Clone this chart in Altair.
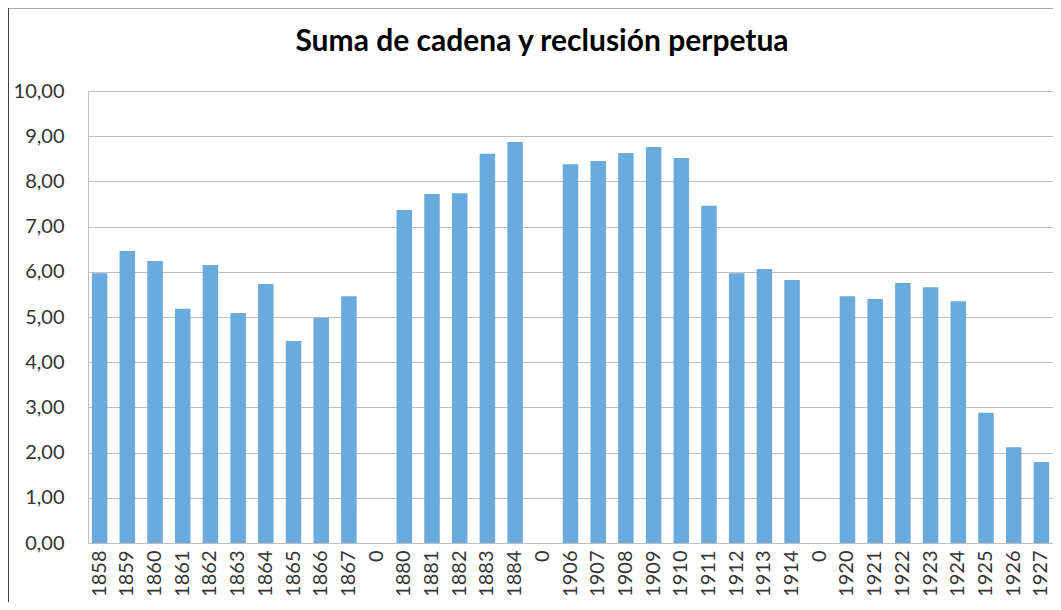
import altair as alt
import pandas as pd

# Category keys (gap categories get unique keys, displayed as "0")
keys = ["1858", "1859", "1860", "1861", "1862", "1863", "1864", "1865", "1866", "1867",
        "g1",
        "1880", "1881", "1882", "1883", "1884",
        "g2",
        "1906", "1907", "1908", "1909", "1910", "1911", "1912", "1913", "1914",
        "g3",
        "1920", "1921", "1922", "1923", "1924", "1925", "1926", "1927"]

values = [5.97, 6.46, 6.24, 5.18, 6.15, 5.09, 5.73, 4.47, 4.98, 5.46,
          0.0,
          7.37, 7.72, 7.74, 8.61, 8.87,
          0.0,
          8.38, 8.45, 8.63, 8.76, 8.52, 7.46, 5.97, 6.06, 5.82,
          0.0,
          5.46, 5.40, 5.75, 5.66, 5.35, 2.88, 2.12, 1.79]

y_ticks = [0, 1, 2, 3, 4, 5, 6, 7, 8, 9, 10]

title_text = "Suma de cadena y reclusión perpetua"

df = pd.DataFrame({"cat": keys, "value": values})

bars = alt.Chart(df).mark_bar(color="#6aaadc").encode(
    x=alt.X("cat:N", sort=keys, title=None,
            scale=alt.Scale(paddingInner=0.44, paddingOuter=0.14),
            axis=alt.Axis(labelAngle=-90,
                          labelExpr="indexof(datum.value, 'g') == 0 ? '0' : datum.value",
                          labelFont="Lato", labelFontSize=20, labelColor="#333333",
                          labelPadding=7, ticks=False, domainColor="#bfbfbf",
                          domainWidth=1, grid=False)),
    y=alt.Y("value:Q", title=None,
            scale=alt.Scale(domain=[0, 10], nice=False),
            axis=alt.Axis(values=y_ticks,
                          labelExpr="replace(format(datum.value, '.2f'), '.', ',')",
                          labelFont="Lato", labelFontSize=20, labelColor="#333333",
                          labelPadding=24, ticks=False, domainColor="#bfbfbf",
                          gridColor="#bfbfbf", gridWidth=1)),
)

frame_src = pd.DataFrame({"k": [0]})
left_frame = alt.Chart(frame_src).mark_rule(color="#000000", strokeWidth=1.5).encode(
    x=alt.value(-80), y=alt.value(-83), y2=alt.value(520)
)
top_frame = alt.Chart(frame_src).mark_rule(color="#555555", strokeWidth=1).encode(
    x=alt.value(-80), x2=alt.value(975), y=alt.value(-83)
)
title_mark = alt.Chart(frame_src).mark_text(
    text=title_text, font="Lato", fontSize=30, fontWeight="bold", color="#000000",
    align="center", baseline="middle"
).encode(x=alt.value(454), y=alt.value(-49))

chart = alt.layer(bars, left_frame, top_frame, title_mark).properties(
    width=965,
    height=452,
    padding={"left": 80, "top": 83, "right": 0, "bottom": 59},
    autosize=alt.AutoSizeParams(type="none"),
).configure_view(stroke=None).configure(background="white")

chart.save("out.html", embed_options={"renderer": "svg", "actions": False})
